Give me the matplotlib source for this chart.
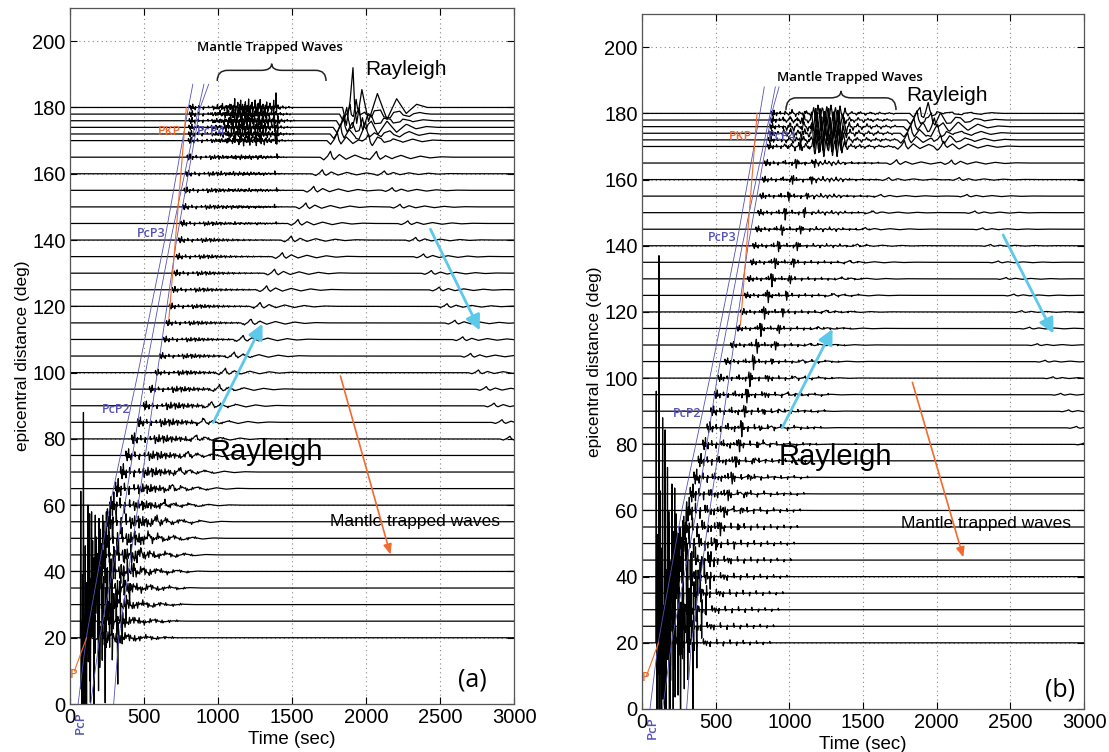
import numpy as np
import matplotlib
matplotlib.use('Agg')
from matplotlib import pyplot as plt
from matplotlib.path import Path
from matplotlib.patches import PathPatch

plt.rcParams['font.family'] = ['Liberation Sans', 'DejaVu Sans']

dist = [20, 25, 30, 35, 40, 45, 50, 55, 60, 65, 70, 75, 80, 85, 90, 95, 100, 105,
        110, 115, 120, 125, 130, 135, 140, 145, 150, 155, 160, 165, 170, 172, 174, 176, 178, 180]

# panel (a)
onset_a = [70, 100, 125, 150, 175, 200, 225, 250, 275, 305, 340, 375, 415, 455, 495, 535, 575, 605,
           630, 650, 670, 688, 703, 718, 733, 748, 760, 770, 780, 790, 798, 800, 802, 804, 806, 808]
pamp_a = [68, 35, 28, 22, 16, 12, 8, 6, 4, 3, 2.5, 2, 1.8, 1.6, 1.4, 1.2, 1.0, 1.0,
          1.0, 1.0, 1.0, 1.0, 1.0, 1.0, 1.0, 1.0, 1.0, 1.0, 1.0, 1.0, 1.0, 1.0, 1.0, 1.0, 1.0, 1.0]
coda_a = [2.0, 2.0, 2.0, 2.0, 2.0, 2.0, 2.0, 2.0, 1.6, 1.6, 1.6, 1.5, 1.4, 1.3, 1.2, 1.0, 0.8, 0.8,
          0.7, 0.7, 0.7, 0.7, 0.7, 0.7, 0.7, 0.7, 0.7, 0.7, 0.7, 0.7, 0.6, 0.6, 0.6, 0.6, 0.6, 0.6]
r1_a = [216, 269, 322, 375, 428, 481, 534, 587, 640, 693, 746, 799, 852, 905, 958, 1011, 1050, 1110,
        1170, 1223, 1285, 1329, 1382, 1435, 1495, 1541, 1594, 1647, 1705, 1760, 1806, 1827, 1848, 1870, 1891, 1912]
r1amp_a = [1.5, 1.5, 1.5, 1.5, 1.5, 1.5, 1.5, 1.5, 1.2, 1.2, 1.2, 1.2, 1.2, 1.2, 1.2, 1.2, 1.2, 1.2,
           1.2, 1.2, 1.2, 1.2, 1.2, 1.2, 1.2, 1.2, 1.2, 1.2, 1.2, 1.8, 2.5, 3.0, 3.5, 4.0, 4.6, 6.0]
r2_a = [3608, 3555, 3502, 3449, 3396, 3343, 3290, 3237, 3184, 3131, 3078, 3025, 2972, 2919, 2866, 2813, 2760, 2707,
        2654, 2601, 2548, 2495, 2442, 2389, 2336, 2283, 2230, 2177, 2124, 2071, 2018, 1997, 1976, 1954, 1933, 1912]
r2amp_a = [0, 0, 0, 0, 0, 0, 0, 0, 0, 0, 0, 0, 0.8, 0.8, 0.8, 0.8, 0.8, 0.8,
           0.8, 0.8, 0.8, 0.8, 0.8, 0.8, 0.8, 0.8, 0.8, 0.8, 0.8, 1.5, 2.2, 2.8, 3.2, 3.8, 4.4, 6.0]
mtw_amp_a = [0, 0, 0, 0, 0, 0, 0, 0, 0, 0, 0, 0, 0, 0, 0, 0, 0, 0,
             0, 0, 0, 0, 0, 0, 0, 0.3, 0.4, 0.45, 0.5, 0.6, 1.5, -1.8, 2.2, -2.4, 2.5, 2.6]
mtw_shift_a = [0, 0, 0, 0, 0, 0, 0, 0, 0, 0, 0, 0, 0, 0, 0, 0, 0, 0,
               0, 0, 0, 0, 0, 0, 0, 5, -6, 8, -4, 10, 0, 9, -7, 15, -12, 4]

# panel (b)
onset_b = [94, 119, 152, 182, 210, 235, 258, 280, 300, 325, 350, 380, 410, 440, 465, 490, 515, 560,
           600, 640, 670, 695, 715, 735, 750, 770, 785, 800, 815, 830, 850, 855, 860, 865, 870, 875]
pamp_b = [117, 63, 43, 33, 19, 10, 7, 5, 4, 3, 2.5, 2.2, 2, 1.8, 1.6, 1.4, 1.2, 1.1,
          1.0, 1.0, 1.0, 1.0, 1.0, 1.0, 1.0, 1.0, 1.0, 1.0, 1.0, 1.0, 1.0, 1.0, 1.0, 1.0, 1.0, 1.0]
coda_b = [1.5, 1.5, 1.5, 1.5, 1.5, 1.5, 1.5, 1.5, 1.5, 1.3, 1.3, 1.3, 1.3, 1.3, 1.2, 1.1, 1.0, 0.8,
          0.8, 0.8, 0.8, 0.8, 0.8, 0.8, 0.8, 0.8, 0.8, 0.8, 0.8, 0.8, 0.6, 0.6, 0.6, 0.6, 0.6, 0.6]
s1_b = [300, 330, 360, 390, 420, 450, 490, 520, 546, 573, 600, 625, 650, 665, 685, 700, 720, 745,
        770, 795, 820, 845, 870, 893, 915, 940, 960, 985, 1010, 1035, 1060, 1065, 1070, 1075, 1080, 1085]
s1amp_b = [2.0, 2.0, 2.0, 2.0, 2.0, 2.0, 2.0, 2.0, 2.0, 2.0, 2.0, 2.0, 2.0, 2.5, 2.5, 2.5, 2.5, 2.5,
           2.5, 2.2, 2.2, 2.2, 2.2, 1.8, 1.8, 1.8, 1.8, 1.5, 1.5, 1.5, 1.0, 1.0, 1.0, 1.0, 1.0, 1.0]
s2_b = [425, 455, 485, 515, 545, 575, 615, 645, 671, 698, 725, 750, 775, 790, 810, 825, 845, 870,
        895, 920, 944, 970, 995, 1018, 1042, 1065, 1090, 1110, 1140, 1160, 1185, 1190, 1195, 1200, 1205, 1210]
s2amp_b = [0.8, 0.8, 0.8, 0.8, 0.8, 0.8, 0.8, 0.8, 0.8, 0.8, 0.8, 0.8, 0.8, 0.8, 0.8, 0.8, 1.0, 1.2,
           1.5, 1.5, 1.5, 1.5, 1.5, 1.5, 1.5, 1.4, 1.4, 1.3, 1.3, 1.3, 0.8, 0.8, 0.8, 0.8, 0.8, 0.8]
r1_b = [191, 244, 297, 350, 403, 456, 509, 562, 615, 668, 721, 774, 827, 880, 933, 986, 1039, 1092,
        1145, 1198, 1251, 1304, 1357, 1410, 1463, 1516, 1569, 1622, 1675, 1728, 1781, 1802, 1823, 1845, 1866, 1887]
r1amp_b = [0, 0, 0, 0, 0, 0, 0, 0, 0.5, 0.5, 0.5, 0.5, 0.5, 0.5, 0.5, 0.5, 0.5, 0.5,
           0.5, 0.5, 0.5, 0.5, 0.5, 0.5, 0.5, 0.5, 0.5, 0.5, 0.6, 1.0, 1.8, 2.2, 2.5, 2.6, 2.8, 2.5]
r2_b = [3638, 3585, 3532, 3479, 3426, 3373, 3320, 3267, 3214, 3161, 3108, 3055, 3002, 2949, 2896, 2843, 2790, 2737,
        2684, 2631, 2578, 2525, 2472, 2419, 2366, 2313, 2260, 2207, 2154, 2101, 2048, 2027, 2006, 1984, 1963, 1942]
r2amp_b = [0, 0, 0, 0, 0, 0, 0, 0, 0, 0, 0, 0, 0.4, 0.4, 0.4, 0.4, 0.4, 0.4,
           0.4, 0.4, 0.4, 0.4, 0.4, 0.4, 0.4, 0.4, 0.5, 0.5, 0.6, 1.0, 1.6, 2.0, 2.3, 2.5, 2.7, 2.5]
mtw_amp_b = [0, 0, 0, 0, 0, 0, 0, 0, 0, 0, 0, 0, 0, 0, 0, 0, 0, 0,
             0, 0, 0, 0, 0, 0, 0.2, 0.25, 0.3, 0.35, 0.45, 0.5, 3.0, -3.5, 4.5, -4.5, 3.5, 2.5]
mtw_shift_b = [0, 0, 0, 0, 0, 0, 0, 0, 0, 0, 0, 0, 0, 0, 0, 0, 0, 0,
               0, 0, 0, 0, 0, 0, 4, -5, 7, -3, 9, -8, 0, 11, -6, 14, -10, 5]

# wavelet shapes (offset s, relative amplitude)
SPIKE_T = [0, 3, 6, 9, 12]
SPIKE_A = [0, 1.0, -0.35, 0.1, 0]
WIG_T = [0, 6, 12, 18, 24, 30]
WIG_A = [0, 0.7, -1.0, 0.6, -0.2, 0]
HUMP_T = [0, 8, 16]
HUMP_A = [0, 1.0, 0]
RAY_T = [-70, -45, -20, 0, 10, 25, 60, 105, 165, 230, 295, 360, 430, 500]
RAY_A = [0, -0.45, 0.15, 1.0, 0.1, -0.4, 0.45, -0.35, 0.35, -0.3, 0.22, -0.15, 0.08, 0]

# P pulse train and codas (offset after onset, relative amplitude)
PTRAIN_T = [0, 9, 18, 35, 60, 90, 125, 165, 210, 250]
PTRAIN_A = [0.65, -0.8, 1.0, -0.7, 0.55, -0.6, 0.4, -0.3, 0.25, -0.2]
CODA_A_T = [150, 175, 205, 230, 260, 290, 320, 355, 390, 430, 470, 510, 560, 610]
CODA_A_R = [1, -0.9, 0.8, -0.8, 0.7, -0.6, 0.55, -0.5, 0.4, -0.35, 0.3, -0.25, 0.2, -0.15]
CODA_B_T = [140, 185, 230, 275, 320, 365, 410, 455, 500, 545, 590, 635, 680, 725, 770]
CODA_B_R = [1, -0.9, 0.9, -0.85, 0.8, -0.75, 0.7, -0.65, 0.6, -0.55, 0.5, -0.45, 0.4, -0.35, 0.3]

# mantle trapped wave packets (offset after start, relative amplitude)
MTW_A_START = 960
MTW_A_T = [0, 14, 30, 41, 55, 63, 77, 90, 98, 112, 121, 135, 146, 153, 167, 178, 186, 199, 210, 218,
           231, 240, 252, 263, 271, 284, 296, 305, 318, 329, 337, 350, 362, 371, 384, 396, 410, 425, 438, 452,
           470, 490, 512, 535]
MTW_A_R = [0.15, -0.1, 0.25, -0.2, 0.15, 0.4, -0.25, 0.3, -0.6, 0.5, 0.3, -0.7, 1.0, -0.4, 0.5, -0.8, 0.9, 0.4, -1.0, 0.7,
           -0.5, 1.0, -0.9, 0.6, -0.3, 0.8, -1.0, 0.5, 0.9, -0.6, 0.4, -0.8, 0.6, -0.4, 0.5, -0.4, 0.3, 1.7, 0.3, -0.2,
           0.2, -0.15, 0.12, -0.1]
MTW_B_START = 960
MTW_B_T = [0, 22, 47, 70, 96, 118, 143, 170, 192, 205, 221, 238, 250, 266, 281, 296, 309, 325, 340, 356,
           371, 388, 405, 425, 450, 482, 510, 545, 575, 610, 640, 675, 705, 735]
MTW_B_R = [0.25, -0.2, 0.3, -0.25, 0.2, -0.3, 0.3, -0.25, 0.7, -0.9, 1.0, -0.6, 0.9, -1.0, 0.8, -0.5, 1.0, -0.9, 0.7, -1.0,
           0.9, -0.6, 0.5, -0.3, 0.25, -0.2, 0.2, -0.2, 0.15, -0.15, 0.15, -0.1, 0.1, -0.1]

# travel-time curves (time s, distance deg)
blue_a = [([55, 110, 270, 460, 640, 800, 830], [0, 20, 60, 100, 140, 180, 187]),
          ([140, 200, 370, 510, 680, 870, 905], [0, 20, 60, 100, 140, 180, 187]),
          ([295, 330, 460, 590, 720, 880, 937], [0, 20, 60, 100, 140, 180, 187])]
blue_b = [([54, 110, 270, 460, 640, 800, 830], [0, 20, 60, 100, 140, 180, 188]),
          ([140, 200, 370, 510, 680, 870, 905], [0, 20, 60, 100, 140, 180, 188]),
          ([303, 335, 460, 590, 720, 880, 930], [0, 20, 60, 100, 140, 180, 188])]
p_line = ([30, 112], [10, 20])
pkp_a = ([668, 786], [116, 180])
pkp_b = ([668, 781], [116, 180])

t = np.arange(0, 3001, 1.0)


def add(sig, shape_t, shape_a, t0, amp):
    sig += amp * np.interp(t - t0, shape_t, shape_a, left=0, right=0)


def trace_a(i):
    s = np.zeros_like(t)
    for o, r in zip(PTRAIN_T, PTRAIN_A):
        add(s, SPIKE_T, SPIKE_A, onset_a[i] + o, pamp_a[i] * r)
    for o, r in zip(CODA_A_T, CODA_A_R):
        add(s, WIG_T, WIG_A, onset_a[i] + o, coda_a[i] * r)
    add(s, RAY_T, RAY_A, r1_a[i], r1amp_a[i])
    add(s, RAY_T, RAY_A, r2_a[i], r2amp_a[i])
    if mtw_amp_a[i]:
        for o, r in zip(MTW_A_T, MTW_A_R):
            add(s, SPIKE_T, SPIKE_A, MTW_A_START + o + mtw_shift_a[i], mtw_amp_a[i] * r)
    return s


def trace_b(i):
    s = np.zeros_like(t)
    for o, r in zip(PTRAIN_T, PTRAIN_A):
        add(s, SPIKE_T, SPIKE_A, onset_b[i] + o, pamp_b[i] * r)
    for o, r in zip(CODA_B_T, CODA_B_R):
        add(s, SPIKE_T, SPIKE_A, onset_b[i] + o, coda_b[i] * r)
    add(s, WIG_T, WIG_A, s1_b[i], s1amp_b[i])
    add(s, WIG_T, WIG_A, s2_b[i], s2amp_b[i])
    add(s, RAY_T, RAY_A, r1_b[i], r1amp_b[i])
    add(s, RAY_T, RAY_A, r2_b[i], r2amp_b[i])
    if mtw_amp_b[i]:
        for o, r in zip(MTW_B_T, MTW_B_R):
            add(s, HUMP_T, HUMP_A, MTW_B_START + o + mtw_shift_b[i], mtw_amp_b[i] * r)
    return s


def brace(ax, x0, x1, y_end, y_top, y_tip, w=70):
    xm = (x0 + x1) / 2
    verts = [(x0, y_end), (x0, y_top), (x0 + w, y_top), (xm - w, y_top), (xm, y_top), (xm, y_tip),
             (xm, y_top), (xm + w, y_top), (x1 - w, y_top), (x1, y_top), (x1, y_end)]
    codes = [Path.MOVETO, Path.CURVE3, Path.CURVE3, Path.LINETO, Path.CURVE3, Path.CURVE3,
             Path.CURVE3, Path.CURVE3, Path.LINETO, Path.CURVE3, Path.CURVE3]
    ax.add_patch(PathPatch(Path(verts, codes), fill=False, lw=1.1, color='#222222'))


BLUE = '#5552b5'
ORANGE = '#f26a2e'
CYAN = '#5cc8ea'
PHASEFONT = ['Open Sans', 'DejaVu Sans']

fig = plt.figure(figsize=(11.09, 7.52), dpi=100)
ax_a = fig.add_axes([0.0631, 0.0638, 0.4004, 0.9255])
ax_b = fig.add_axes([0.5789, 0.0572, 0.3986, 0.924])

panels = [(ax_a, trace_a, blue_a, pkp_a), (ax_b, trace_b, blue_b, pkp_b)]
for ax, tr, blues, pkp in panels:
    ax.set_xlim(0, 3000)
    ax.set_ylim(0, 210)
    ax.set_xticks(range(0, 3001, 500))
    ax.set_yticks(range(0, 201, 20))
    ax.grid(True, ls=(0, (1, 3)), color='#888888', lw=0.8)
    ax.set_axisbelow(True)
    ax.tick_params(direction='in', top=True, right=True, length=5, labelsize=14.5, pad=3)
    for sp in ax.spines.values():
        sp.set_linewidth(0.9)
        sp.set_color('#555555')
    for i, d in enumerate(dist):
        ax.plot(t, d + tr(i), color='black', lw=0.9)
    for bt, bd in blues:
        ax.plot(bt, bd, color=BLUE, lw=0.6)
    ax.plot(p_line[0], p_line[1], color=ORANGE, lw=0.8)
    ax.plot(pkp[0], pkp[1], color=ORANGE, lw=0.8)
    ax.set_xlabel('Time (sec)', fontsize=13.5, labelpad=3)
    ax.set_ylabel('epicentral distance (deg)', fontsize=12.5, labelpad=2)
    ax.text(68, -0.01, 'PcP', transform=ax.get_xaxis_transform(), rotation=90, ha='center', va='top',
            color=BLUE, fontsize=9.5, family=PHASEFONT, weight='semibold')

lab = dict(ha='center', va='center', fontsize=9, family=PHASEFONT, weight='semibold')

# panel (a) annotations
ax_a.text(1350, 198, 'Mantle Trapped Waves', ha='center', va='center', fontsize=9.5,
          family=PHASEFONT, weight='semibold')
brace(ax_a, 995, 1730, 188, 191.2, 193.2)
ax_a.text(1995, 191.5, 'Rayleigh', ha='left', va='center', fontsize=15)
ax_a.text(945, 76, 'Rayleigh', ha='left', va='center', fontsize=21)
ax_a.text(1755, 55, 'Mantle trapped waves', ha='left', va='center', fontsize=12.5)
ax_a.text(2720, 7.3, '(a)', ha='center', va='center', fontsize=18, family=PHASEFONT)
ax_a.text(675, 172.6, 'PKP', color=ORANGE, **lab)
ax_a.text(955, 172.6, 'PcP4', color=BLUE, **lab)
ax_a.text(552, 142, 'PcP3', color=BLUE, **lab)
ax_a.text(314, 89, 'PcP2', color=BLUE, **lab)
ax_a.text(26, 8.9, 'P', color=ORANGE, **lab)
ax_a.annotate('', xy=(1309, 115.5), xytext=(960, 84.2),
              arrowprops=dict(arrowstyle='-|>,head_length=0.9,head_width=0.45', color=CYAN, lw=2))
ax_a.annotate('', xy=(2777, 112), xytext=(2427, 144),
              arrowprops=dict(arrowstyle='-|>,head_length=0.9,head_width=0.45', color=CYAN, lw=2))
ax_a.annotate('', xy=(2170, 44.3), xytext=(1822, 99.8),
              arrowprops=dict(arrowstyle='-|>,head_length=0.6,head_width=0.25', color=ORANGE, lw=1.2))

# panel (b) annotations
ax_b.text(1413, 190.9, 'Mantle Trapped Waves', ha='center', va='center', fontsize=9.5,
          family=PHASEFONT, weight='semibold')
brace(ax_b, 977, 1724, 181, 184.7, 186.8)
ax_b.text(1795, 185.4, 'Rayleigh', ha='left', va='center', fontsize=15)
ax_b.text(925, 76.3, 'Rayleigh', ha='left', va='center', fontsize=21)
ax_b.text(1755, 56, 'Mantle trapped waves', ha='left', va='center', fontsize=12.5)
ax_b.text(2838, 5.7, '(b)', ha='center', va='center', fontsize=18, family=PHASEFONT)
ax_b.text(670, 173, 'PKP', color=ORANGE, **lab)
ax_b.text(950, 173, 'PcP4', color=BLUE, **lab)
ax_b.text(548, 142.5, 'PcP3', color=BLUE, **lab)
ax_b.text(308, 89.4, 'PcP2', color=BLUE, **lab)
ax_b.text(28, 9.4, 'P', color=ORANGE, **lab)
ax_b.annotate('', xy=(1302, 115.6), xytext=(943, 84.3),
              arrowprops=dict(arrowstyle='-|>,head_length=0.9,head_width=0.45', color=CYAN, lw=2))
ax_b.annotate('', xy=(2801, 112.7), xytext=(2442, 144),
              arrowprops=dict(arrowstyle='-|>,head_length=0.9,head_width=0.45', color=CYAN, lw=2))
ax_b.annotate('', xy=(2186, 45), xytext=(1830, 99.5),
              arrowprops=dict(arrowstyle='-|>,head_length=0.6,head_width=0.25', color=ORANGE, lw=1.2))

fig.savefig('out.png', dpi=100)
